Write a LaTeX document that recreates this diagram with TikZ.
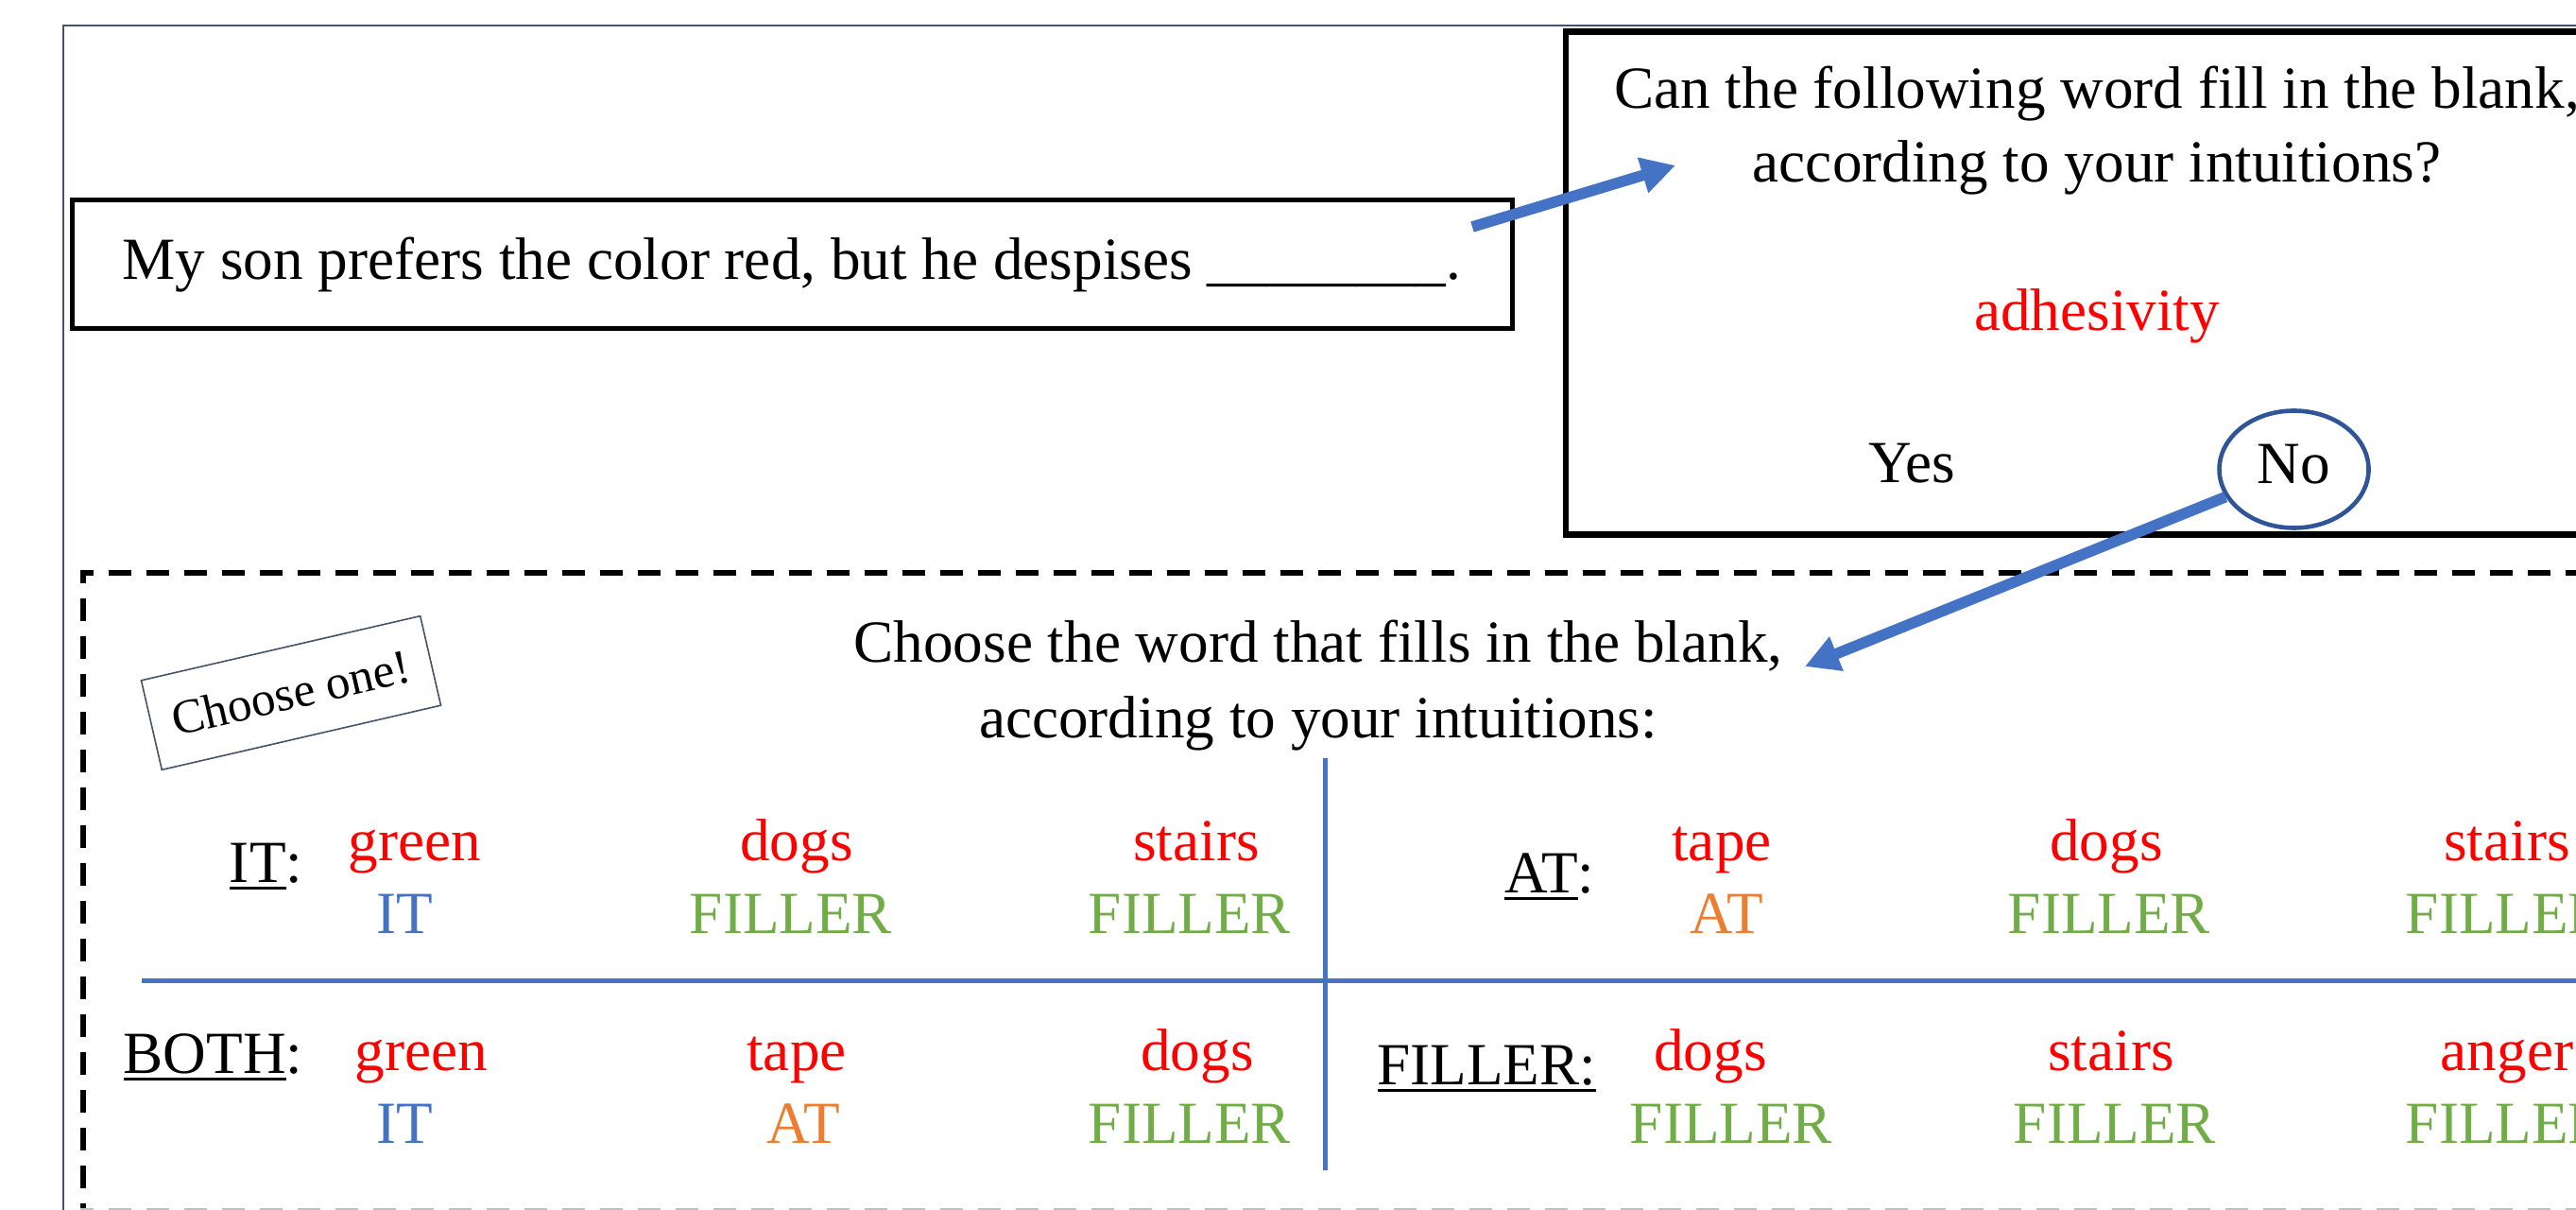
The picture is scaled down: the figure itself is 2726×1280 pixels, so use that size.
\documentclass[tikz,border=0pt]{standalone}
\usepackage{fontspec}
\setmainfont{Liberation Serif}
\usetikzlibrary{arrows.meta,shapes.geometric}
\definecolor{framec}{HTML}{44546A}
\definecolor{arrowc}{HTML}{4472C4}
\definecolor{ellc}{HTML}{2F5597}
\definecolor{wred}{HTML}{FF0000}
\definecolor{wblue}{HTML}{4472C4}
\definecolor{wgreen}{HTML}{70AD47}
\definecolor{worange}{HTML}{ED7D31}
\newcommand{\ulx}[1]{\setbox0\hbox{#1}\rlap{\rule[-1.9pt]{\wd0}{0.7pt}}\box0}
\tikzset{
  txt/.style={inner sep=0pt, font=\fontsize{15.8pt}{19pt}\selectfont},
  wordr/.style={txt, anchor=base, text=wred},
  wordb/.style={txt, anchor=base, text=wblue},
  wordg/.style={txt, anchor=base, text=wgreen},
  wordo/.style={txt, anchor=base, text=worange},
  lab/.style={txt, anchor=base east},
  bluearrow/.style={draw=arrowc, line width=2.9pt, -{Triangle[width=9.2pt,length=9pt]}},
  dashedge/.style={line width=1.6pt, dash pattern=on 6pt off 4pt, dash phase=2.5pt},
  gridline/.style={draw=wblue, line width=1.25pt},
}
\begin{document}
\begin{tikzpicture}[x=0.25pt,y=-0.25pt]
\useasboundingbox (0,0) rectangle (2726,1280);
\clip (0,0) rectangle (2726,1280);
\fill[white] (0,0) rectangle (2726,1280);
% outer frame
\draw[framec, line width=0.5pt] (67,1300) -- (67,27) -- (2800,27);
% sentence box
\node[txt, draw, line width=1.25pt, minimum width=381pt, minimum height=34pt] (sbox) at (838,280)
  {My son prefers the color red, but he despises \_\_\_\_\_\_\_\_.};
% question box
\node[draw, line width=1.6pt, minimum width=281pt, minimum height=133pt, inner sep=0pt] (qbox) at (2219,299.5) {};
\node[txt, anchor=base] (q1) at (2219,115) {Can the following word fill in the blank,};
\node[txt, anchor=base] (q2) at (2219,193) {according to your intuitions?};
\node[wordr] (adh) at (2219,350) {adhesivity};
\node[txt, anchor=base] (yes) at (2023,511) {Yes};
\node[txt, ellipse, draw=ellc, line width=1.15pt, minimum width=39.5pt, minimum height=31pt,
  text height=10.5pt, text depth=3.2pt] (no) at (2427.5,496.5) {No};
% dashed box
\draw[dashedge] (85,606) -- (2800,606);
\draw[dashedge] (88,603) -- (88,1300);
\draw[dashedge, draw=black!25] (85,1281.5) -- (2800,1281.5);
% choose one
\node[txt, draw=framec, line width=0.4pt, rotate=13, minimum width=75.75pt, minimum height=24.25pt,
  font=\fontsize{12.8pt}{15pt}\selectfont] (choose) at (308,733) {Choose one!};
\node[txt, anchor=base] (c1) at (1395,701) {Choose the word that fills in the blank,};
\node[txt, anchor=base] (c2) at (1395,781) {according to your intuitions:};
% grid
\coordinate (vtop) at (1402,802);
\coordinate (vbot) at (1402,1238);
\coordinate (hl) at (150,1037);
\coordinate (hr) at (2800,1037);
\draw[gridline] (vtop) -- (vbot);
\draw[gridline] (hl) -- (hr);
% labels
\node[lab] (lit) at (321,933) {\ulx{IT}:};
\node[lab] (lboth) at (321,1135) {\ulx{BOTH}:};
\node[lab] (lat) at (1688,944) {\ulx{AT}:};
\node[lab] (lfill) at (1690,1147) {\ulx{FILLER:}};
% row 1 left
\node[wordr] (r1a) at (439,910) {green};
\node[wordr] (r1b) at (843,910) {dogs};
\node[wordr] (r1c) at (1266,910) {stairs};
\node[wordb] (s1a) at (428,987) {IT};
\node[wordg] (s1b) at (837,987) {FILLER};
\node[wordg] (s1c) at (1259,987) {FILLER};
% row 1 right
\node[wordr] (r1d) at (1822,910) {tape};
\node[wordr] (r1e) at (2229,910) {dogs};
\node[wordr] (r1f) at (2653,910) {stairs};
\node[wordo] (s1d) at (1827,987) {AT};
\node[wordg] (s1e) at (2232,987) {FILLER};
\node[wordg] (s1f) at (2653,987) {FILLER};
% row 2 left
\node[wordr] (r2a) at (446,1132) {green};
\node[wordr] (r2b) at (843,1132) {tape};
\node[wordr] (r2c) at (1267,1132) {dogs};
\node[wordb] (s2a) at (428,1209) {IT};
\node[wordo] (s2b) at (850,1209) {AT};
\node[wordg] (s2c) at (1259,1209) {FILLER};
% row 2 right
\node[wordr] (r2d) at (1810,1132) {dogs};
\node[wordr] (r2e) at (2234,1132) {stairs};
\node[wordr] (r2f) at (2653,1132) {anger};
\node[wordg] (s2d) at (1832,1209) {FILLER};
\node[wordg] (s2e) at (2238,1209) {FILLER};
\node[wordg] (s2f) at (2653,1209) {FILLER};
% arrows
\coordinate (a1s) at (1558,240);
\coordinate (a1e) at (1773,175);
\coordinate (a2e) at (1910,705);
\draw[bluearrow] (a1s) -- (a1e);
\draw[bluearrow] (no) -- (a2e);
\end{tikzpicture}
\end{document}
